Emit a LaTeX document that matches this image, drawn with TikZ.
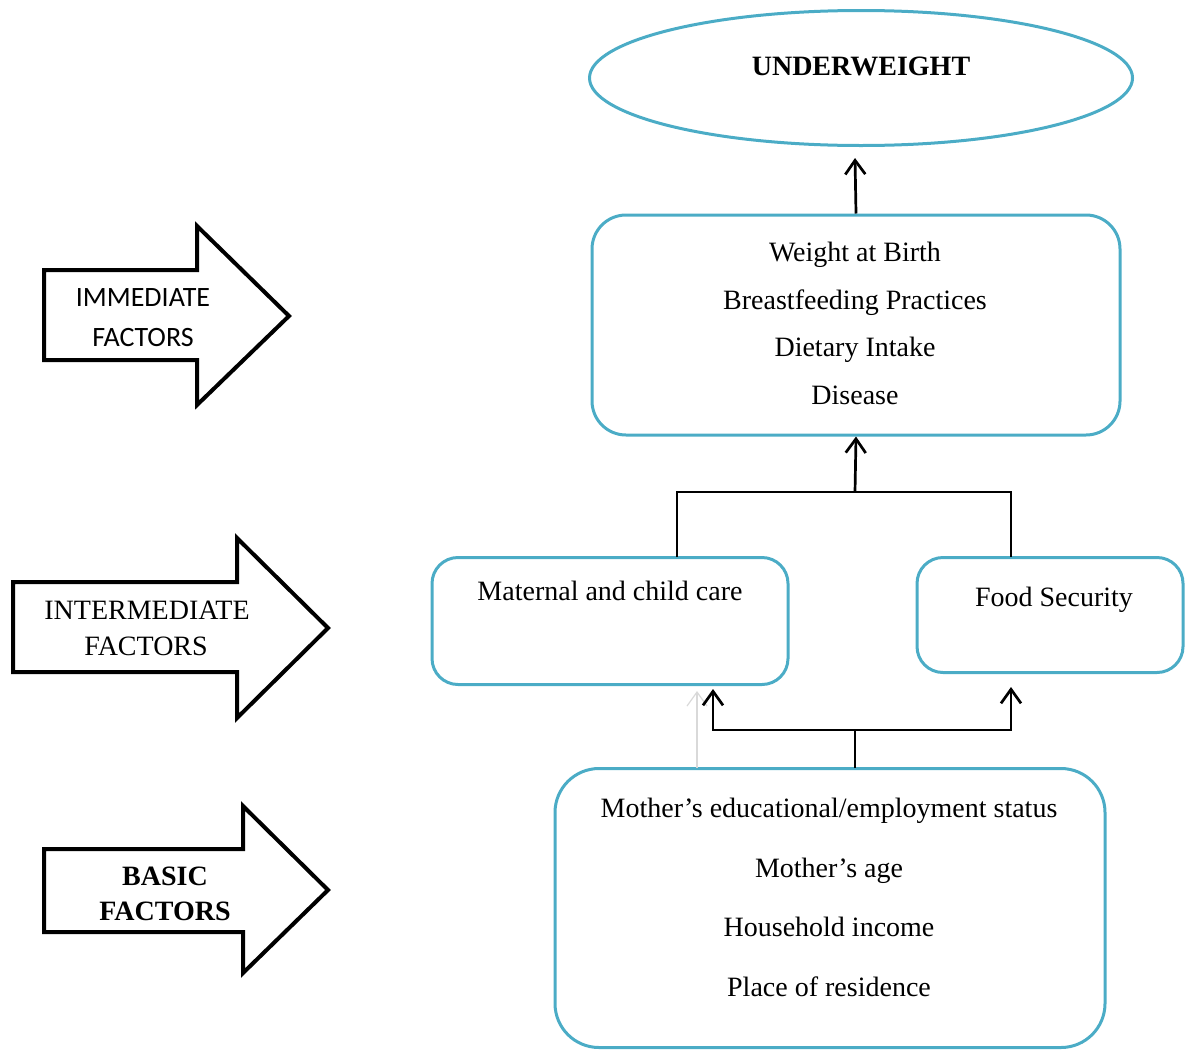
\documentclass[tikz,border=0pt]{standalone}
\usepackage{fontspec}
\setmainfont{Liberation Serif}
\newfontfamily\calib{Carlito}
\usetikzlibrary{shapes.geometric,arrows.meta}
\definecolor{aqua}{HTML}{4BACC6}
\begin{document}
\begin{tikzpicture}[x=0.5pt,y=-0.5pt]
\tikzstyle{bx}=[draw=aqua,line width=1.5pt,inner sep=0pt]
\tikzstyle{txt}=[anchor=base,inner sep=0pt,font=\fontsize{14}{16}\selectfont]
\tikzstyle{ed}=[draw=black,line width=1.35pt]
\tikzstyle{arr}=[ed,-{Straight Barb[length=7pt,width=10pt]}]
\tikzstyle{ghost}=[draw=black!15,line width=0.6pt,-{Straight Barb[length=7pt,width=10pt]}]
\tikzstyle{fat}=[draw=black,line width=2pt,fill=white,line join=miter]
\useasboundingbox (0,0) rectangle (1186,1049);
\node [bx,ellipse,minimum width=271.5pt,minimum height=67.5pt] (uw) at (861,78) {};
\node [txt,font=\fontsize{14}{16}\selectfont\bfseries] (uwt) at (861,75) {UNDERWEIGHT};
\node [bx,rounded corners=17pt,minimum width=264pt,minimum height=110pt] (imm) at (856,325) {};
\node [txt] (i1) at (855,261) {Weight at Birth};
\node [txt] (i2) at (855,309) {Breastfeeding Practices};
\node [txt] (i3) at (855,356) {Dietary Intake};
\node [txt] (i4) at (855,404) {Disease};
\node [bx,rounded corners=13pt,minimum width=178pt,minimum height=63.5pt] (mat) at (610,621) {};
\node [txt] (mt) at (610,600) {Maternal and child care};
\node [bx,rounded corners=13pt,minimum width=133pt,minimum height=57.5pt] (food) at (1050,615) {};
\node [txt] (ft) at (1054,606) {Food Security};
\node [bx,rounded corners=22pt,minimum width=275pt,minimum height=139.5pt] (bas) at (830,908) {};
\node [txt] (b1) at (829,817) {Mother’s educational/employment status};
\node [txt] (b2) at (829,877) {Mother’s age};
\node [txt] (b3) at (829,936) {Household income};
\node [txt] (b4) at (829,996) {Place of residence};
\coordinate (jtop) at (855,492);
\coordinate (mup) at (677,557);
\coordinate (fup) at (1011,557);
\coordinate (bup) at (855,768);
\coordinate (jbot) at (855,730);
\coordinate (mdn) at (713,689);
\coordinate (fdn) at (1011,687);
\coordinate (gup) at (697,768);
\coordinate (gdn) at (697,691);
\coordinate (uwdn) at (855,158);
\draw [arr] (imm.north) -- (uwdn);
\draw [ed] (mup) |- (jtop) -| (fup);
\draw [arr] (jtop) -- (imm.south);
\draw [ghost] (gup) -- (gdn);
\draw [arr] (bup) -- (jbot) -| (mdn);
\draw [arr] (jbot) -| (fdn);
\draw [fat] (44,270) -- (197,270) -- (197,226) -- (289,316) -- (197,405) -- (197,360) -- (44,360) -- cycle;
\node [txt,font=\fontsize{14}{16}\calib] (imt) at (143,306) {IMMEDIATE};
\node [txt,font=\fontsize{14}{16}\calib] (imf) at (143,346) {FACTORS};
\draw [fat] (13,582) -- (237,582) -- (237,538) -- (328,628) -- (237,718) -- (237,672) -- (13,672) -- cycle;
\node [txt] (int) at (147,619) {INTERMEDIATE};
\node [txt] (inf) at (146,655) {FACTORS};
\draw [fat] (44,849) -- (243,849) -- (243,806) -- (328,890) -- (243,973) -- (243,932) -- (44,932) -- cycle;
\node [txt,font=\fontsize{14}{16}\selectfont\bfseries] (bat) at (165,885) {BASIC};
\node [txt,font=\fontsize{14}{16}\selectfont\bfseries] (baf) at (165,920) {FACTORS};
\end{tikzpicture}
\end{document}
